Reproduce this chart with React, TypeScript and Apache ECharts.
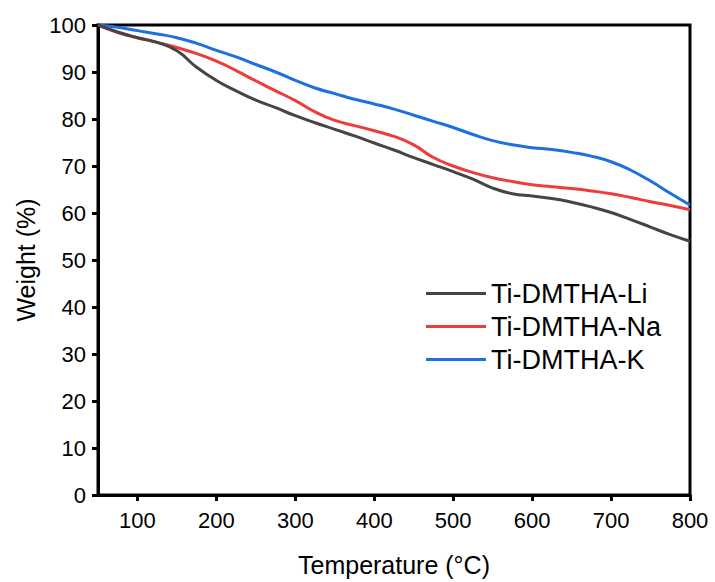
import React, { useEffect, useRef } from "react";
import * as echarts from "echarts";

const temps = [50, 75, 100, 125, 150, 175, 200, 225, 250, 275, 300, 325, 350, 375, 400, 425, 450, 475, 500, 525, 550, 575, 600, 625, 650, 675, 700, 725, 750, 775, 800];
const liWeight = [100, 98.5, 97.3, 96.3, 94.5, 91.0, 88.2, 86.0, 84.0, 82.4, 80.7, 79.2, 77.8, 76.4, 74.9, 73.4, 71.8, 70.3, 68.8, 67.2, 65.3, 64.1, 63.6, 63.1, 62.3, 61.3, 60.1, 58.6, 57.0, 55.4, 54.0];
const naWeight = [100, 98.4, 97.3, 96.3, 95.2, 93.9, 92.3, 90.3, 88.1, 86.0, 83.9, 81.5, 79.7, 78.6, 77.5, 76.3, 74.5, 71.8, 70.0, 68.6, 67.5, 66.7, 66.0, 65.6, 65.2, 64.7, 64.1, 63.3, 62.4, 61.6, 60.7];
const kWeight = [100, 99.5, 98.8, 98.1, 97.3, 96.1, 94.6, 93.2, 91.6, 90.0, 88.2, 86.6, 85.4, 84.2, 83.2, 82.1, 80.8, 79.5, 78.2, 76.7, 75.4, 74.5, 73.9, 73.5, 72.9, 72.1, 70.9, 69.1, 66.8, 64.2, 61.7];
const seriesNames = ["Ti-DMTHA-Li", "Ti-DMTHA-Na", "Ti-DMTHA-K"];
const seriesColors = ["#454545", "#EE3B3B", "#1E6FE0"];
const xTicks = [100, 200, 300, 400, 500, 600, 700, 800];

const FONT = "'Liberation Sans', Arial, sans-serif";

export default function App() {
  const ref = useRef<HTMLDivElement>(null);
  useEffect(() => {
    if (!ref.current) return;
    const chart = echarts.init(ref.current, undefined, { renderer: "svg" });
    const allData = [liWeight, naWeight, kWeight];
    chart.setOption({
      animation: false,
      backgroundColor: "#ffffff",
      textStyle: { fontFamily: FONT },
      grid: {
        left: 98,
        right: 25,
        top: 25,
        bottom: 84,
        show: true,
        borderColor: "#000",
        borderWidth: 3,
        backgroundColor: "transparent",
      },
      legend: {
        orient: "vertical",
        left: 421,
        top: 275,
        itemWidth: 60,
        itemHeight: 3,
        itemGap: 6,
        icon: "rect",
        textStyle: { fontSize: 27, lineHeight: 27, color: "#000", fontFamily: FONT },
        data: seriesNames,
      },
      xAxis: {
        type: "value",
        min: 50,
        max: 800,
        interval: 50,
        name: "Temperature (°C)",
        nameLocation: "middle",
        nameGap: 57,
        nameTextStyle: { fontSize: 25, color: "#000", fontFamily: FONT },
        axisLine: { show: true, lineStyle: { color: "#000", width: 3 } },
        axisTick: {
          show: true,
          length: 6,
          lineStyle: { color: "#000", width: 3 },
          customValues: xTicks,
        },
        axisLabel: {
          fontSize: 22,
          color: "#000",
          margin: 14,
          fontFamily: FONT,
          customValues: xTicks,
        },
        splitLine: { show: false },
      },
      yAxis: {
        type: "value",
        min: 0,
        max: 100,
        interval: 10,
        name: "Weight (%)",
        nameLocation: "middle",
        nameGap: 58,
        nameTextStyle: { fontSize: 25, color: "#000", fontFamily: FONT },
        axisLine: { show: true, lineStyle: { color: "#000", width: 3 } },
        axisTick: { show: true, length: 6, lineStyle: { color: "#000", width: 3 } },
        axisLabel: { fontSize: 22, color: "#000", margin: 12, fontFamily: FONT },
        splitLine: { show: false },
      },
      series: seriesNames.map((name, i) => ({
        name,
        type: "line",
        smooth: true,
        symbol: "none",
        color: seriesColors[i],
        lineStyle: { color: seriesColors[i], width: 3 },
        data: temps.map((t, j) => [t, allData[i][j]]),
        z: 3 - i,
      })),
    });
    return () => chart.dispose();
  }, []);
  return (
    <div
      ref={ref}
      style={{ position: "fixed", left: 0, top: 0, width: 715, height: 582, background: "#fff" }}
    />
  );
}
